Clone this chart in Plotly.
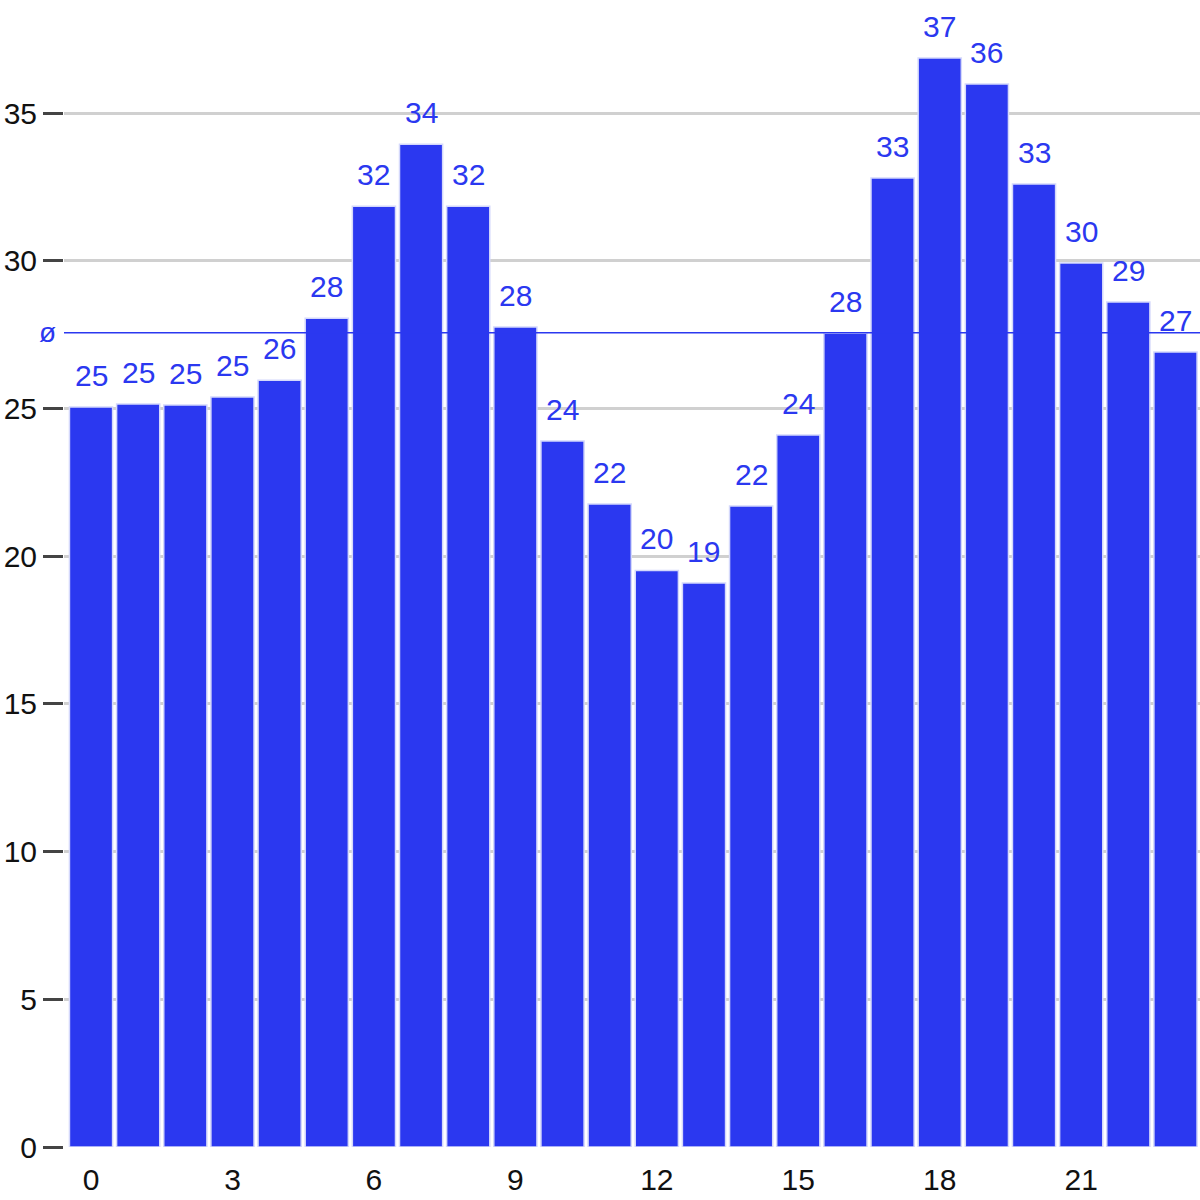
import plotly.graph_objects as go

hours = list(range(24))
values = [25.05, 25.15, 25.12, 25.39, 25.96, 28.06, 31.85, 33.95, 31.85, 27.76,
          23.90, 21.77, 19.52, 19.09, 21.70, 24.10, 27.55, 32.80, 36.87, 35.99,
          32.60, 29.93, 28.61, 26.91]
x_ticks = [0, 3, 6, 9, 12, 15, 18, 21]
y_ticks = [0, 5, 10, 15, 20, 25, 30, 35]

blue = "#2b38f0"
mean_value = sum(values) / len(values)

fig = go.Figure()
fig.add_trace(go.Bar(
    x=hours,
    y=values,
    marker=dict(color=blue, line=dict(color="#d4d8fb", width=1.5)),
    hoverinfo="x+y",
))

# value labels above each bar
for h, v in zip(hours, values):
    fig.add_annotation(
        x=h, y=v, text=f"{v:.0f}",
        showarrow=False, yanchor="bottom", yshift=13,
        font=dict(color=blue, size=30),
    )

# average line
fig.add_hline(y=mean_value, line=dict(color=blue, width=1.5), layer="above")
fig.add_annotation(
    xref="paper", x=0, y=mean_value, text="ø",
    showarrow=False, xanchor="right", xshift=-6,
    font=dict(color=blue, size=28),
)

fig.update_layout(
    width=1200,
    height=1200,
    margin=dict(l=64, r=0, t=0, b=53),
    plot_bgcolor="white",
    paper_bgcolor="white",
    showlegend=False,
    bargap=0.085,
    font=dict(family="Liberation Sans, Arial, sans-serif", size=30, color="#111"),
)
fig.update_xaxes(
    range=[-0.573, 23.52],
    tickvals=x_ticks,
    showgrid=False,
    zeroline=False,
    showline=False,
    ticks="",
    ticklabelstandoff=12,
    automargin=False,
)
fig.update_yaxes(
    range=[0, 38.83],
    tickvals=y_ticks,
    showgrid=True,
    gridcolor="#d0d0d0",
    gridwidth=3,
    zeroline=False,
    showline=False,
    ticks="outside",
    ticklen=20,
    tickwidth=3,
    tickcolor="#444",
    automargin=False,
)

# drop the browser's default body margin so the chart fills the window
fig.write_html(
    "out.html",
    config={"displayModeBar": False},
    post_script="document.body.style.margin='0';",
)
